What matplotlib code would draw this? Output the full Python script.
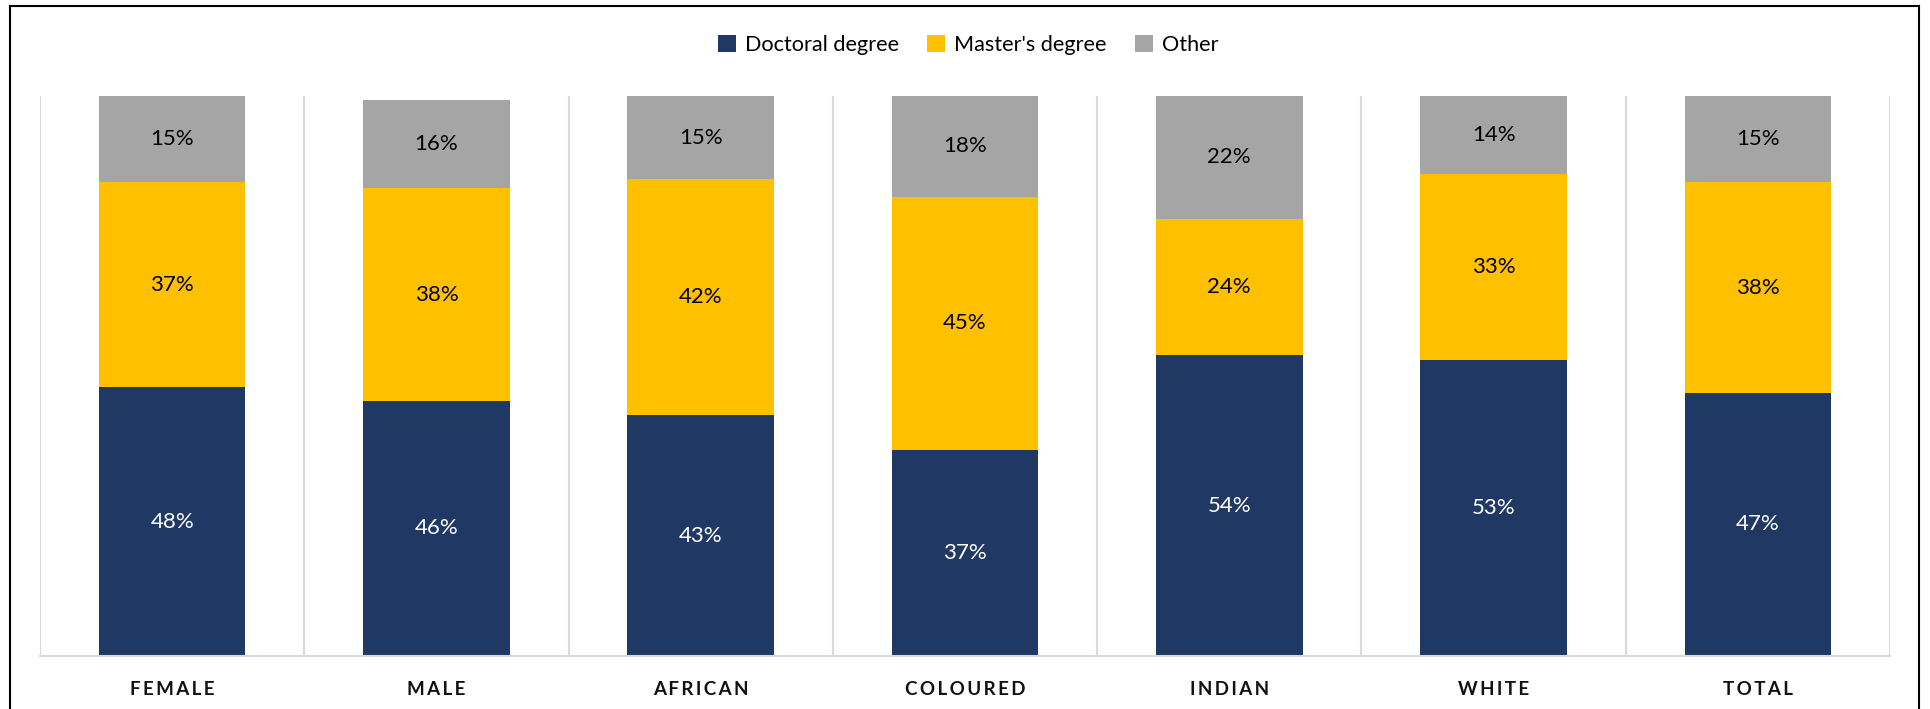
import numpy as np
import matplotlib.pyplot as plt
from matplotlib.lines import Line2D

plt.rcParams['font.family'] = ['Lato', 'DejaVu Sans']

# Shares of each qualification by group
groups = ['FEMALE', 'MALE', 'AFRICAN', 'COLOURED', 'INDIAN', 'WHITE', 'TOTAL']
doctoral = [0.480, 0.456, 0.430, 0.368, 0.537, 0.529, 0.470]
masters = [0.366, 0.379, 0.421, 0.452, 0.244, 0.331, 0.376]
other = [0.154, 0.158, 0.149, 0.180, 0.219, 0.140, 0.154]

series = [('Doctoral degree', doctoral, '#1F3864', 'white'),
          ("Master's degree", masters, '#FFC000', 'black'),
          ('Other', other, '#A5A5A5', 'black')]

fig = plt.figure(figsize=(19.31, 7.09), dpi=100)
ax = fig.add_axes([40 / 1931, 53 / 709, 1850 / 1931, 560 / 709])

x = np.arange(len(groups))
bottom = np.zeros(len(groups))
for name, vals, color, tcolor in series:
    vals = np.array(vals)
    bars = ax.bar(x, vals, width=0.555, bottom=bottom, color=color, label=name, zorder=2)
    for xi, b, v in zip(x, bottom, vals):
        ax.text(xi, b + v / 2, f'{v:.0%}', ha='center', va='center',
                color=tcolor, fontsize=16, zorder=3)
    bottom += vals

ax.set_xlim(-0.5, len(groups) - 0.5)
ax.set_ylim(0, 1)

# light separators between categories
for b in np.arange(-0.5, len(groups), 1.0):
    ax.axvline(b, color='#D9D9D9', lw=1.5, zorder=1)

for s in ['top', 'left', 'right']:
    ax.spines[s].set_visible(False)
ax.spines['bottom'].set_color('#D9D9D9')
ax.spines['bottom'].set_linewidth(1.5)
ax.set_yticks([])
ax.set_xticks(x)
ax.set_xticklabels(['\u2009'.join(g) for g in groups], fontsize=13.5,
                   fontweight='bold', color='#111111')
ax.tick_params(axis='x', length=0, pad=18)

fig.legend(loc='center', bbox_to_anchor=(968 / 1931, 1 - 45 / 709), ncol=3,
           frameon=False, fontsize=15.6, handlelength=0.85, handleheight=0.85,
           handletextpad=0.4, columnspacing=1.3)

# outer frame (open at the bottom)
W, H = 1931, 709
for xs, ys in [([10, 10], [0, 703]), ([10, 1919], [703, 703]), ([1919, 1919], [703, 0])]:
    fig.add_artist(Line2D([v / W for v in xs], [v / H for v in ys],
                          transform=fig.transFigure, color='black', lw=1.5))

fig.savefig('out.png', dpi=100)
